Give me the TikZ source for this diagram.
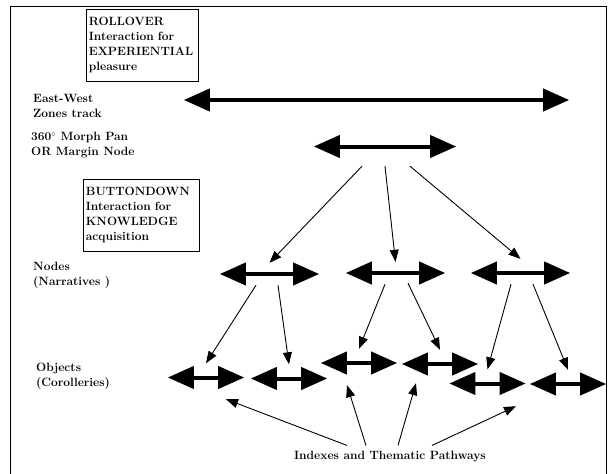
\documentclass[tikz,border=0pt]{standalone}
\usetikzlibrary{arrows.meta}
\newcommand{\lblfont}{\fontsize{12}{15}\selectfont\bfseries}
\tikzset{
lbl/.style={font=\lblfont,align=left,anchor=west,inner sep=0pt},
infobox/.style={draw,line width=0.8pt,font=\lblfont,align=left,inner sep=2.5pt,minimum height=72pt,anchor=north west},
track/.style={minimum height=22pt,inner sep=0pt},
item/.style={minimum height=28pt,minimum width=76pt,inner sep=0pt},
dbl/.style={line width=4pt,{Triangle[length=26pt,width=22pt]}-{Triangle[length=26pt,width=22pt]}},
link/.style={-{Triangle[length=12pt,width=9pt]},line width=0.9pt}
}
\begin{document}
\begin{tikzpicture}[x=1pt,y=-1pt]
\useasboundingbox (0,0) rectangle (608,474);
\clip (0,0) rectangle (608,474);
\draw[line width=0.8pt] (10,6) rectangle (606,480);
% text boxes and row labels
\node[infobox,text width=107pt] (roll) at (86,9) {ROLLOVER\\Interaction for\\EXPERIENTIAL\\pleasure};
\node[infobox,text width=111pt] (btn) at (83,179) {BUTTONDOWN\\Interaction for\\KNOWLEDGE\\acquisition};
\node[lbl] (ewlbl) at (33,105.5) {East-West\\Zones track};
\node[lbl] (morphlbl) at (31,145.5) {360$^{\circ}$ Morph Pan\\OR Margin Node};
\node[lbl] (nodelbl) at (33,275.5) {Nodes\\(Narratives )};
\node[lbl] (objlbl) at (36,376.5) {Objects\\(Corolleries)};
\node[font=\lblfont,inner sep=2pt] (idx) at (390,457) {Indexes and Thematic Pathways};
% tracks
\node[track,minimum width=385pt] (ew) at (376.5,100) {};
\node[track,minimum width=142pt] (morph) at (385,146.5) {};
\node[track,minimum width=99pt] (n1) at (269.5,274) {};
\node[track,minimum width=99pt] (n2) at (395.5,273) {};
\node[track,minimum width=99pt] (n3) at (520.5,273) {};
\node[item] (o1) at (206,377.5) {};
\node[item] (o2) at (289,378.5) {};
\node[item] (o3) at (359,363) {};
\node[item] (o4) at (440,364) {};
\node[item] (o5) at (487.5,383.5) {};
\node[item] (o6) at (568,384) {};
\foreach \a in {ew,morph,n1,n2,n3,o1,o2,o3,o4,o5,o6}{\draw[dbl] (\a.west) -- (\a.east);}
% morph pan to nodes
\draw[link] ([xshift=-23pt,yshift=-8.5pt]morph.south) -- (n1.north);
\draw[link] ([yshift=-8.5pt]morph.south) -- (n2.north);
\draw[link] ([xshift=25pt,yshift=-8.5pt]morph.south) -- ([yshift=3pt]n3.north);
% nodes to objects
\draw[link] ([xshift=-13.5pt]n1.south) -- (o1.north);
\draw[link] ([xshift=8.5pt]n1.south) -- (o2.north);
\draw[link] ([xshift=-10.5pt]n2.south) -- (o3.north);
\draw[link] ([xshift=12.5pt,yshift=1pt]n2.south) -- (o4.north);
\draw[link] ([xshift=-9.5pt]n3.south) -- (o5.north);
\draw[link] ([xshift=12.5pt]n3.south) -- (o6.north);
% indexes to objects
\draw[link] ([xshift=-43pt,yshift=4pt]idx.north) -- ([xshift=20pt,yshift=-7.5pt]o1.south);
\draw[link] ([xshift=-24pt,yshift=4pt]idx.north) -- ([xshift=-12pt,yshift=-8pt]o3.south);
\draw[link] ([xshift=8pt,yshift=4pt]idx.north) -- ([xshift=-24pt,yshift=-5pt]o4.south);
\draw[link] ([xshift=42pt,yshift=4pt]idx.north) -- ([xshift=28.5pt,yshift=-8.5pt]o5.south);
\end{tikzpicture}
\end{document}
